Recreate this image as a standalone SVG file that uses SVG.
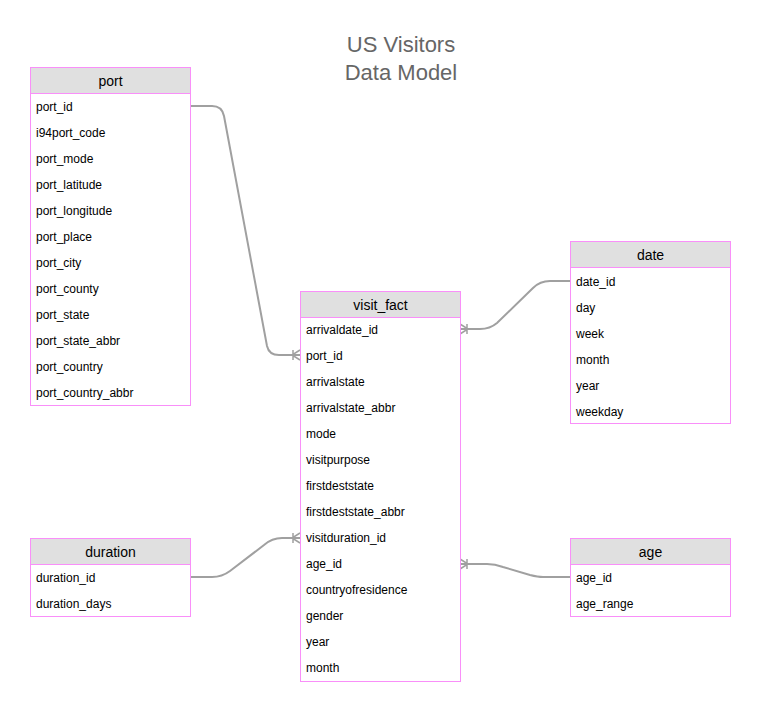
<svg xmlns="http://www.w3.org/2000/svg" width="761" height="714" viewBox="0 0 761 714">
<style>
.tbl{fill:#fff;stroke:#f98ff9;stroke-width:1}
.hdr{fill:#e0e0e0;stroke:#f98ff9;stroke-width:1}
.ht{font-family:"Liberation Sans",Arial,sans-serif;font-size:14px;fill:#000;text-anchor:middle}
.rt{font-family:"Liberation Sans",Arial,sans-serif;font-size:12px;fill:#000}
.title{font-family:"Liberation Sans",Arial,sans-serif;font-size:22px;fill:#666;text-anchor:middle}
.conn{fill:none;stroke:#a0a0a0;stroke-width:2}
.mk{fill:none;stroke:#a0a0a0;stroke-width:1.5}
</style>
<rect width="761" height="714" fill="#fff"/>
<g id="title">
<text class="title" x="401" y="52">US Visitors</text>
<text class="title" x="401" y="80">Data Model</text>
</g>
<g id="connectors">
<path class="conn" d="M190,106 L212,106 Q222,106 224,116 L267,346 Q269,355 279,355 L300,355"/>
<path class="mk" d="M300,350 L292,355 L300,360 M292,355 L300,355 M293,350 L293,360"/>
<path class="conn" d="M570,281 L550,281 Q540,281 533,288 L497,323 Q490,329 480,329 L460,329"/>
<path class="mk" d="M460,324 L468,329 L460,334 M467,324 L467,334"/>
<path class="conn" d="M190,577 L212,577 Q222,577 230,571 L264,545 Q272,538 282,538 L300,538"/>
<path class="mk" d="M300,533 L292,538 L300,543 M293,533 L293,543"/>
<path class="conn" d="M570,577 L543,577 Q538,577 530,575 L503,567 Q495,564 487,564 L460,564"/>
<path class="mk" d="M460,559 L468,564 L460,569 M467,559 L467,569"/>
</g>
<g id="port">
<rect class="tbl" x="30.5" y="67.5" width="160" height="338"/>
<rect class="hdr" x="30.5" y="67.5" width="160" height="26"/>
<text class="ht" x="110.5" y="86">port</text>
<text class="rt" x="36" y="111">port_id</text>
<text class="rt" x="36" y="137">i94port_code</text>
<text class="rt" x="36" y="163">port_mode</text>
<text class="rt" x="36" y="189">port_latitude</text>
<text class="rt" x="36" y="215">port_longitude</text>
<text class="rt" x="36" y="241">port_place</text>
<text class="rt" x="36" y="267">port_city</text>
<text class="rt" x="36" y="293">port_county</text>
<text class="rt" x="36" y="319">port_state</text>
<text class="rt" x="36" y="345">port_state_abbr</text>
<text class="rt" x="36" y="371">port_country</text>
<text class="rt" x="36" y="397">port_country_abbr</text>
</g>
<g id="visit_fact">
<rect class="tbl" x="300.5" y="291.5" width="160" height="390"/>
<rect class="hdr" x="300.5" y="291.5" width="160" height="26"/>
<text class="ht" x="380.5" y="310">visit_fact</text>
<text class="rt" x="306" y="334">arrivaldate_id</text>
<text class="rt" x="306" y="360">port_id</text>
<text class="rt" x="306" y="386">arrivalstate</text>
<text class="rt" x="306" y="412">arrivalstate_abbr</text>
<text class="rt" x="306" y="438">mode</text>
<text class="rt" x="306" y="464">visitpurpose</text>
<text class="rt" x="306" y="490">firstdeststate</text>
<text class="rt" x="306" y="516">firstdeststate_abbr</text>
<text class="rt" x="306" y="542">visitduration_id</text>
<text class="rt" x="306" y="568">age_id</text>
<text class="rt" x="306" y="594">countryofresidence</text>
<text class="rt" x="306" y="620">gender</text>
<text class="rt" x="306" y="646">year</text>
<text class="rt" x="306" y="672">month</text>
</g>
<g id="date">
<rect class="tbl" x="570.5" y="241.5" width="160" height="182"/>
<rect class="hdr" x="570.5" y="241.5" width="160" height="26"/>
<text class="ht" x="650.5" y="260">date</text>
<text class="rt" x="576" y="286">date_id</text>
<text class="rt" x="576" y="312">day</text>
<text class="rt" x="576" y="338">week</text>
<text class="rt" x="576" y="364">month</text>
<text class="rt" x="576" y="390">year</text>
<text class="rt" x="576" y="416">weekday</text>
</g>
<g id="duration">
<rect class="tbl" x="30.5" y="538.5" width="160" height="78"/>
<rect class="hdr" x="30.5" y="538.5" width="160" height="26"/>
<text class="ht" x="110.5" y="557">duration</text>
<text class="rt" x="36" y="582">duration_id</text>
<text class="rt" x="36" y="608">duration_days</text>
</g>
<g id="age">
<rect class="tbl" x="570.5" y="538.5" width="160" height="78"/>
<rect class="hdr" x="570.5" y="538.5" width="160" height="26"/>
<text class="ht" x="650.5" y="557">age</text>
<text class="rt" x="576" y="582">age_id</text>
<text class="rt" x="576" y="608">age_range</text>
</g>
</svg>
